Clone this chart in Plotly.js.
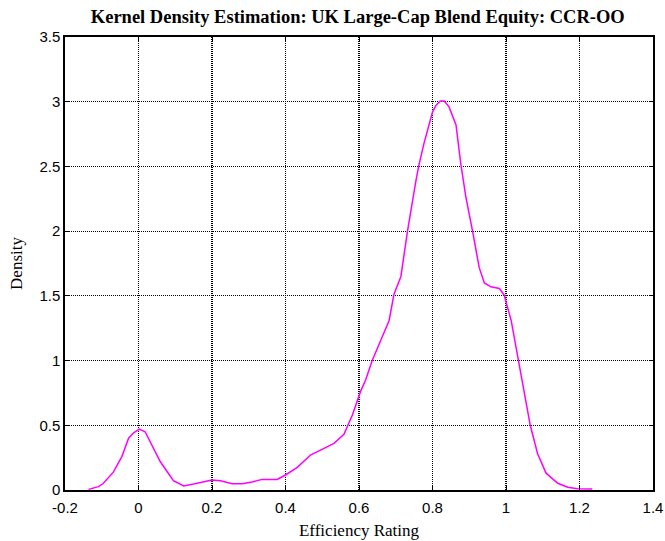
<!DOCTYPE html>
<html>
<head>
<meta charset="utf-8">
<script src="https://cdn.plot.ly/plotly-3.0.1.min.js"></script>
<style>
  html, body { margin: 0; padding: 0; background: #fff; }
  #chart { width: 665px; height: 541px; }
</style>
</head>
<body>
<div id="chart"></div>
<script>
// Kernel density estimate of efficiency ratings
const rating = [-0.136, -0.109, -0.096, -0.068, -0.045, -0.027, -0.014, 0.002, 0.018, 0.032,
  0.059, 0.095, 0.123, 0.15, 0.177, 0.2, 0.223, 0.255, 0.282, 0.309,
  0.336, 0.377, 0.4, 0.432, 0.468, 0.504, 0.532, 0.559, 0.582, 0.604,
  0.618, 0.636, 0.668, 0.682, 0.695, 0.714, 0.732, 0.745, 0.755, 0.763,
  0.777, 0.8, 0.809, 0.821, 0.832, 0.845, 0.864, 0.877, 0.891, 0.909,
  0.927, 0.941, 0.959, 0.982, 0.995, 1.014, 1.032, 1.05, 1.066, 1.086,
  1.109, 1.141, 1.168, 1.195, 1.235];
const density = [0.005, 0.026, 0.05, 0.14, 0.26, 0.40, 0.44, 0.47, 0.45, 0.37,
  0.22, 0.072, 0.031, 0.046, 0.064, 0.077, 0.072, 0.049, 0.049, 0.062,
  0.082, 0.082, 0.116, 0.175, 0.27, 0.32, 0.36, 0.43, 0.58, 0.76,
  0.85, 1.0, 1.21, 1.31, 1.51, 1.65, 2.0, 2.24, 2.39, 2.51,
  2.68, 2.92, 2.97, 3.006, 3.006, 2.96, 2.82, 2.52, 2.26, 2.0,
  1.72, 1.6, 1.57, 1.557, 1.506, 1.31, 1.03, 0.75, 0.50, 0.28,
  0.13, 0.052, 0.021, 0.01, 0.008];

const xTickVals = [-0.2, 0, 0.2, 0.4, 0.6, 0.8, 1, 1.2, 1.4];
const xTickText = ['-0.2', '0', '0.2', '0.4', '0.6', '0.8', '1', '1.2', '1.4'];
const yTickVals = [0, 0.5, 1, 1.5, 2, 2.5, 3, 3.5];
const yTickText = ['0', '0.5', '1', '1.5', '2', '2.5', '3', '3.5'];

const serif = 'Liberation Serif, Times New Roman, serif';

const trace = {
  x: rating,
  y: density,
  type: 'scatter',
  mode: 'lines',
  line: { color: '#ff00ff', width: 1.5 },
  hoverinfo: 'x+y'
};

const axisCommon = {
  showline: true,
  mirror: 'ticks',
  linecolor: '#000',
  linewidth: 1.6,
  ticks: 'inside',
  ticklen: 4,
  tickcolor: '#000',
  showgrid: true,
  gridcolor: '#000',
  griddash: '1px,1px',
  gridwidth: 1.2,
  zeroline: false,
  tickfont: { family: 'Liberation Sans, Arial, sans-serif', size: 15, color: '#000' }
};

const layout = {
  width: 665,
  height: 541,
  margin: { l: 65, r: 12, t: 37, b: 51 },
  paper_bgcolor: '#fff',
  plot_bgcolor: '#fff',
  showlegend: false,
  title: {
    text: '<b>Kernel Density Estimation: UK Large-Cap Blend Equity: CCR-OO</b>',
    font: { family: serif, size: 18.5, color: '#000' },
    x: 0.538, xanchor: 'center',
    y: 0.97, yanchor: 'middle'
  },
  xaxis: Object.assign({}, axisCommon, {
    range: [-0.2, 1.4],
    tickvals: xTickVals,
    ticktext: xTickText,
    ticklabelstandoff: 3,
    title: { text: 'Efficiency Rating', standoff: 9,
      font: { family: serif, size: 17, color: '#000' } }
  }),
  yaxis: Object.assign({}, axisCommon, {
    range: [0, 3.5],
    tickvals: yTickVals,
    ticktext: yTickText,
    title: { text: 'Density', standoff: 12,
      font: { family: serif, size: 17, color: '#000' } }
  })
};

Plotly.newPlot('chart', [trace], layout, { displayModeBar: false, staticPlot: true });
</script>
</body>
</html>
